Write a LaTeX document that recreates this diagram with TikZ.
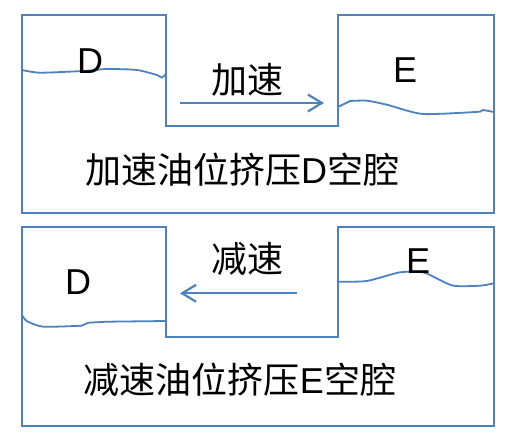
\documentclass[tikz,border=0pt]{standalone}
\usepackage{fontspec}
\setmainfont{Liberation Sans}
\newfontfamily\cjk{Noto Sans CJK SC}
\usetikzlibrary{arrows.meta}
\definecolor{lineblue}{HTML}{4F81BD}
\tikzset{
  outline/.style={draw=lineblue, line width=2pt, line join=miter},
  wave/.style={draw=lineblue, line width=1.8pt, line join=round},
  flow/.style={draw=lineblue, line width=2.2pt, -{Straight Barb[length=14pt,width=17pt,line width=2.2pt]}},
  lbl/.style={inner sep=0pt, font=\fontsize{36}{40}\selectfont},
}
\begin{document}
\begin{tikzpicture}[x=1pt,y=-1pt]
\useasboundingbox (0,0) rectangle (527,436);
% ---------- top panel ----------
\draw[outline] (22,15) -- (166,15) -- (166,126) -- (338,126) -- (338,15) -- (494,15) -- (494,213) -- (22,213) -- cycle;
\draw[wave] plot[smooth, tension=0.4] coordinates {(22,70) (40,72.7) (83,71) (107,69) (137,70) (157,75)} -- (162,77.7) -- (166,74);
\draw[wave] (338,107) -- plot[smooth, tension=0.4] coordinates {(350,101) (367,100.7) (388,105) (423,114) (480,111.7)} -- (483,110) -- (494,112);
\node[lbl] (d1) at (90,61) {D};
\node[lbl] (e1) at (405,70) {E};
\node[lbl] (acc) at (247,80) {\cjk 加速};
\coordinate (a1s) at (180,103);
\coordinate (a1e) at (324,103);
\draw[flow] (a1s) -- (a1e);
\node[lbl] (t1) at (242,170) {{\cjk 加速油位挤压}D{\cjk 空腔}};
% ---------- bottom panel ----------
\draw[outline] (22,227.3) -- (166,227.3) -- (166,337.3) -- (338,337.3) -- (338,227.3) -- (494,227.3) -- (494,425.7) -- (22,425.7) -- cycle;
\draw[wave] plot[smooth, tension=0.4] coordinates {(22,315) (26.7,321) (43.3,326.7) (81.7,325.7)} -- (88.3,322.7) -- (106.7,321.7) -- (166,321);
\draw[wave] plot[smooth, tension=0.4] coordinates {(338,281.7) (366.7,281) (400,272.3) (423.3,272.3) (433.3,276.7) (453.3,285.7) (480,285.7) (494,283.3)};
\node[lbl] (d2) at (78,282) {D};
\node[lbl] (e2) at (418,261) {E};
\node[lbl] (dec) at (247,259) {\cjk 减速};
\coordinate (a2s) at (297,293.3);
\coordinate (a2e) at (180,293.3);
\draw[flow] (a2s) -- (a2e);
\node[lbl] (t2) at (240,380) {{\cjk 减速油位挤压}E{\cjk 空腔}};
\end{tikzpicture}
\end{document}
